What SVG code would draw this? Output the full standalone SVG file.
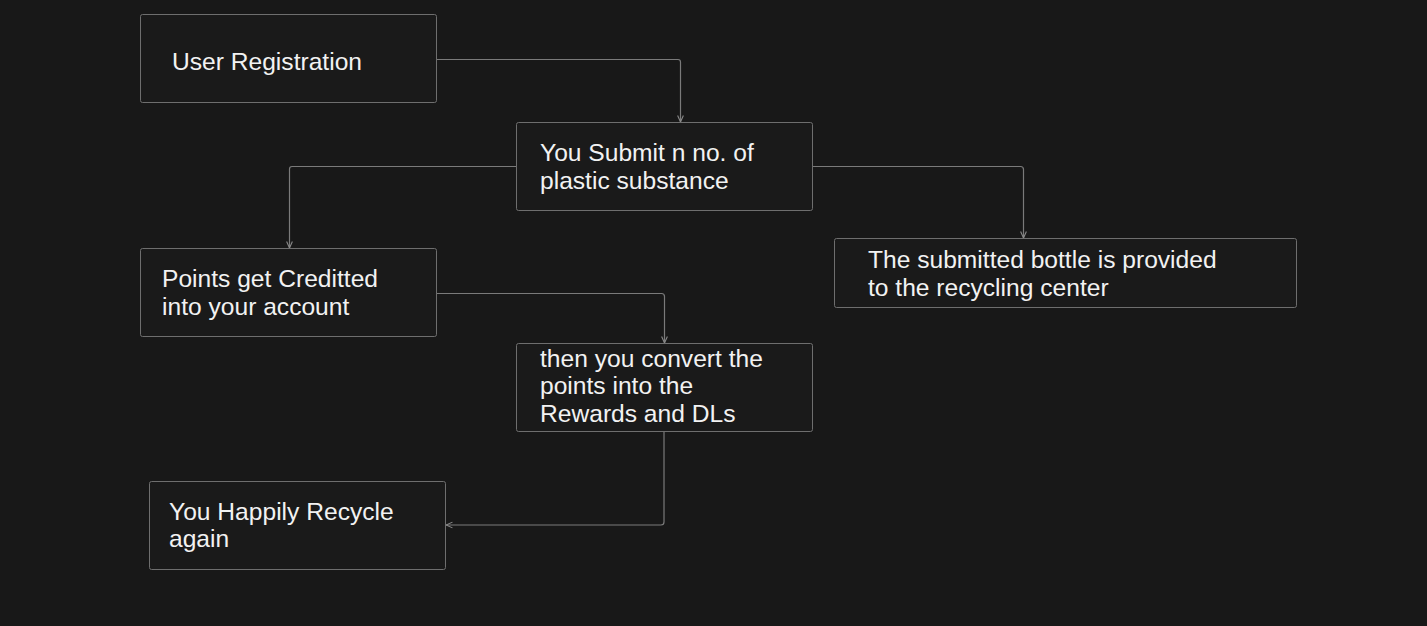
<svg xmlns="http://www.w3.org/2000/svg" width="1427" height="626" viewBox="0 0 1427 626">
<style>
.bg{fill:#181818}
.box{fill:#1a1a1a;stroke:#6e6e6e;stroke-width:1}
.t{font-family:"Liberation Sans",Arial,sans-serif;font-size:24.6px;fill:#f2f2f2}
.c{fill:none;stroke:#7a7a7a;stroke-width:1.2;stroke-linejoin:round}
</style>
<defs>
<marker id="ah" viewBox="0 0 10 10" refX="10" refY="5" markerWidth="6" markerHeight="6" orient="auto">
<path d="M1,1 L10,5 L1,9" fill="none" stroke="#8a8a8a" stroke-width="1.5"/>
</marker>
</defs>
<rect class="bg" x="0" y="0" width="1427" height="626"/>
<g id="connectors">
<path class="c" d="M437,59.5 H678 Q680.5,59.5 680.5,62 V122" marker-end="url(#ah)"/>
<path class="c" d="M516,166.5 H292 Q289.5,166.5 289.5,169 V248" marker-end="url(#ah)"/>
<path class="c" d="M813,166.5 H1020.5 Q1023.5,166.5 1023.5,169.5 V238" marker-end="url(#ah)"/>
<path class="c" d="M437,293.5 H661.5 Q664.5,293.5 664.5,296.5 V343" marker-end="url(#ah)"/>
<path class="c" d="M664,432 V522 Q664,525 661,525 H446" marker-end="url(#ah)"/>
</g>
<g id="user-registration">
<rect class="box" x="140.5" y="14.5" width="296" height="88" rx="2"/>
<text class="t" x="172" y="70">User Registration</text>
</g>
<g id="submit">
<rect class="box" x="516.5" y="122.5" width="296" height="88" rx="2"/>
<text class="t" x="540" y="161">You Submit n no. of</text>
<text class="t" x="540" y="189">plastic substance</text>
</g>
<g id="points">
<rect class="box" x="140.5" y="248.5" width="296" height="88" rx="2"/>
<text class="t" x="162" y="287">Points get Creditted</text>
<text class="t" x="162" y="315">into your account</text>
</g>
<g id="convert">
<rect class="box" x="516.5" y="343.5" width="296" height="88" rx="2"/>
<text class="t" x="540" y="367">then you convert the</text>
<text class="t" x="540" y="394">points into the</text>
<text class="t" x="540" y="422">Rewards and DLs</text>
</g>
<g id="recycle">
<rect class="box" x="149.5" y="481.5" width="296" height="88" rx="2"/>
<text class="t" x="169" y="520">You Happily Recycle</text>
<text class="t" x="169" y="547">again</text>
</g>
<g id="recycling-center">
<rect class="box" x="834.5" y="238.5" width="462" height="69" rx="2"/>
<text class="t" x="868" y="268">The submitted bottle is provided</text>
<text class="t" x="868" y="296">to the recycling center</text>
</g>
</svg>
